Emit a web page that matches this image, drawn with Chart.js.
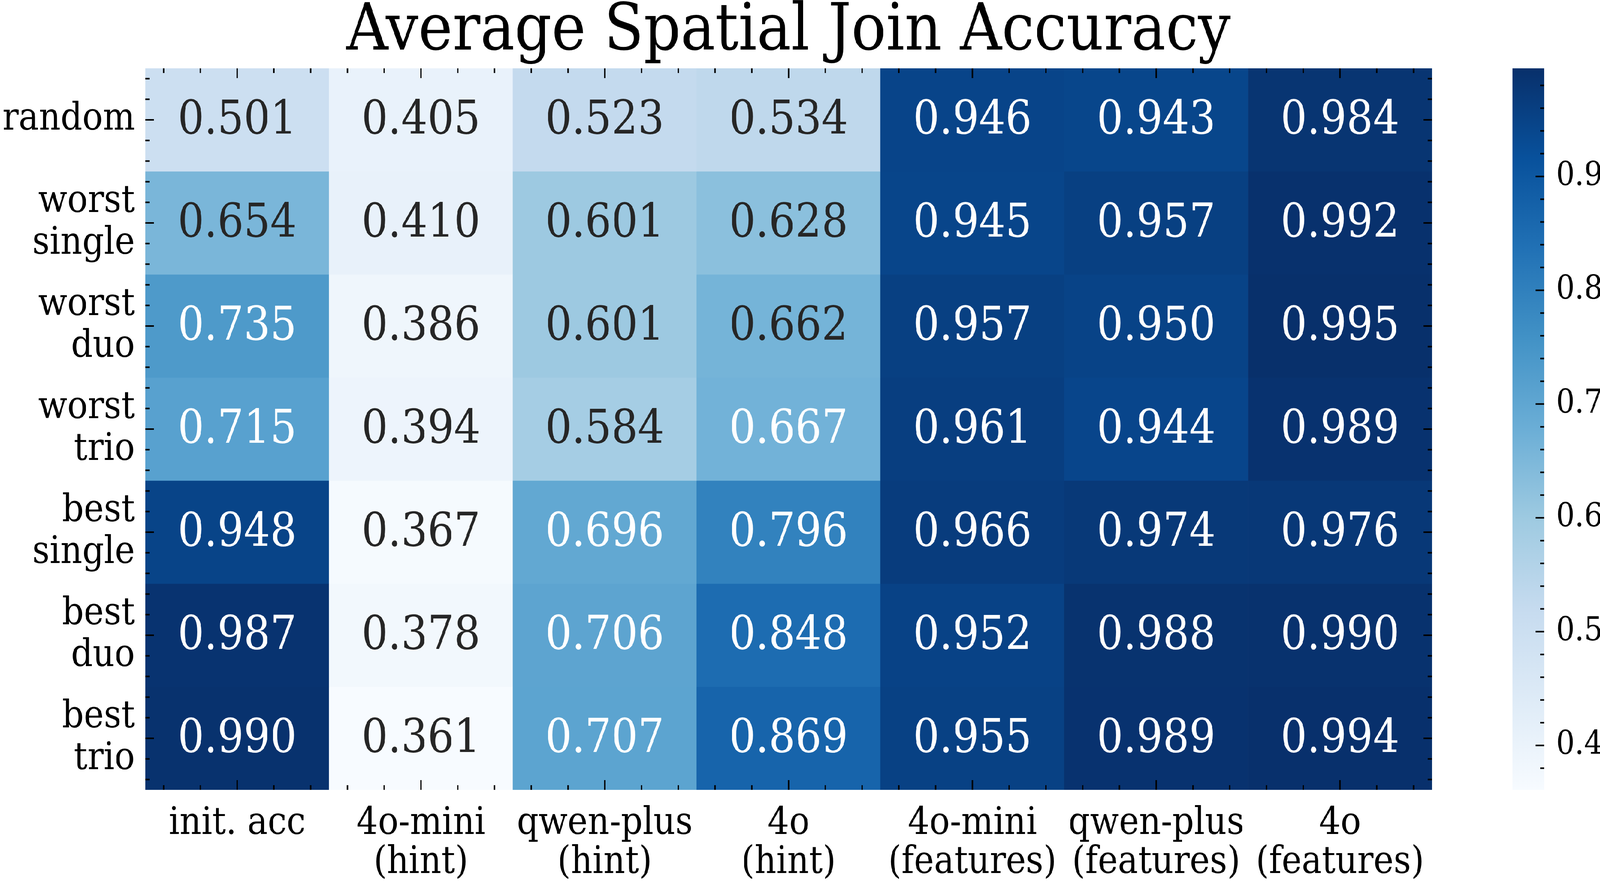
<!DOCTYPE html>
<html>
<head>
<meta charset="utf-8">
<script src="https://cdn.jsdelivr.net/npm/chart.js@4"></script>
<style>
  html, body { margin: 0; padding: 0; background: #fff; overflow: hidden; }
  #stage { position: relative; width: 100vw; height: 100vh; overflow: hidden; }
  #wrap { position: absolute; left: 0; top: 0; width: 4626px; height: 2259px; transform-origin: 0 0; }
  #heat { position: absolute; left: 0; top: 0; }
  #cbar { position: absolute; left: 4300px; top: 0; }
</style>
</head>
<body>
<div id="stage">
  <div id="wrap">
    <canvas id="heat" width="4300" height="2259"></canvas>
    <canvas id="cbar" width="326" height="2259"></canvas>
  </div>
</div>
<script>
// rows of the heatmap (one array per row, columns in colLabels order)
var rowLabels = [['random'], ['worst', 'single'], ['worst', 'duo'], ['worst', 'trio'],
                 ['best', 'single'], ['best', 'duo'], ['best', 'trio']];
var colLabels = [['init. acc'], ['4o-mini', '(hint)'], ['qwen-plus', '(hint)'], ['4o', '(hint)'],
                 ['4o-mini', '(features)'], ['qwen-plus', '(features)'], ['4o', '(features)']];

var randomRow   = [0.501, 0.405, 0.523, 0.534, 0.946, 0.943, 0.984];
var worstSingle = [0.654, 0.410, 0.601, 0.628, 0.945, 0.957, 0.992];
var worstDuo    = [0.735, 0.386, 0.601, 0.662, 0.957, 0.950, 0.995];
var worstTrio   = [0.715, 0.394, 0.584, 0.667, 0.961, 0.944, 0.989];
var bestSingle  = [0.948, 0.367, 0.696, 0.796, 0.966, 0.974, 0.976];
var bestDuo     = [0.987, 0.378, 0.706, 0.848, 0.952, 0.988, 0.990];
var bestTrio    = [0.990, 0.361, 0.707, 0.869, 0.955, 0.989, 0.994];
var rows = [randomRow, worstSingle, worstDuo, worstTrio, bestSingle, bestDuo, bestTrio];

var cbTicks = [0.4, 0.5, 0.6, 0.7, 0.8, 0.9];

var vmin = Math.min.apply(null, rows.map(function (r) { return Math.min.apply(null, r); }));
var vmax = Math.max.apply(null, rows.map(function (r) { return Math.max.apply(null, r); }));

// the figure is laid out at 4626x2259; the window may be narrower, so stretch it to fill
var sx = window.innerWidth / 4626, sy = window.innerHeight / 2259;
document.getElementById('wrap').style.transform = 'scale(' + sx + ',' + sy + ')';

// matplotlib "Blues"
var blues = ['#f7fbff', '#deebf7', '#c6dbef', '#9ecae1', '#6baed6', '#4292c6', '#2171b5', '#08519c', '#08306b'];
var bluesRgb = blues.map(function (h) {
    return [parseInt(h.substr(1, 2), 16), parseInt(h.substr(3, 2), 16), parseInt(h.substr(5, 2), 16)];
});

function cmap(v) {
    var t = (v - vmin) / (vmax - vmin);
    t = Math.max(0, Math.min(1, t)) * (bluesRgb.length - 1);
    var i = Math.min(Math.floor(t), bluesRgb.length - 2);
    var f = t - i;
    var a = bluesRgb[i], b = bluesRgb[i + 1];
    return [0, 1, 2].map(function (k) { return a[k] + (b[k] - a[k]) * f; });
}
function css(c) { return 'rgb(' + c.map(Math.round).join(',') + ')'; }

// seaborn picks text colour from the luminance of the cell
function textColor(v) {
    var lin = cmap(v).map(function (x) {
        x = x / 255;
        return x <= 0.03928 ? x / 12.92 : Math.pow((x + 0.055) / 1.055, 2.4);
    });
    var lum = 0.2126 * lin[0] + 0.7152 * lin[1] + 0.0722 * lin[2];
    return lum > 0.408 ? '#262626' : '#ffffff';
}

var serif = 'DejaVu Serif';

// numbers inside the cells
var cellText = {
    id: 'cellText',
    afterDatasetsDraw: function (chart) {
        var ctx = chart.ctx;
        ctx.save();
        ctx.font = '120px "' + serif + '"';
        ctx.textAlign = 'center';
        ctx.textBaseline = 'alphabetic';
        chart.data.datasets.forEach(function (ds, di) {
            chart.getDatasetMeta(di).data.forEach(function (bar, ci) {
                var p = bar.getProps(['x', 'y', 'base'], true);
                var v = ds.values[ci];
                ctx.fillStyle = textColor(v);
                ctx.fillText(v.toFixed(3), p.x, (p.y + p.base) / 2 + 35);
            });
        });
        ctx.restore();
    }
};

// inward major + minor ticks on all four sides
var insideTicks = {
    id: 'insideTicks',
    afterDraw: function (chart) {
        var ctx = chart.ctx, a = chart.chartArea, x = chart.scales.x, y = chart.scales.y;
        var offs = [0.1, 0.3, 0.5, 0.7, 0.9];
        ctx.save();
        ctx.strokeStyle = '#000';
        ctx.lineWidth = 4;
        ctx.beginPath();
        colLabels.forEach(function (l, i) {
            offs.forEach(function (d) {
                var px = x.getPixelForValue(i - 0.5 + d);
                var len = d === 0.5 ? 25 : 12;
                ctx.moveTo(px, a.bottom); ctx.lineTo(px, a.bottom - len);
                ctx.moveTo(px, a.top); ctx.lineTo(px, a.top + len);
            });
        });
        rowLabels.forEach(function (l, r) {
            offs.forEach(function (d) {
                var py = y.getPixelForValue(r + d);
                var len = d === 0.5 ? 25 : 12;
                ctx.moveTo(a.left, py); ctx.lineTo(a.left + len, py);
                ctx.moveTo(a.right, py); ctx.lineTo(a.right - len, py);
            });
        });
        ctx.stroke();
        ctx.restore();
    }
};

var heat = new Chart(document.getElementById('heat').getContext('2d'), {
    type: 'bar',
    data: {
        labels: colLabels,
        datasets: rows.map(function (vals, r) {
            return {
                label: rowLabels[r].join(' '),
                data: vals.map(function () { return [r, r + 1]; }),
                values: vals,
                backgroundColor: vals.map(function (v) { return css(cmap(v)); }),
                borderWidth: 0,
                barPercentage: 1,
                categoryPercentage: 1,
                grouped: false
            };
        })
    },
    options: {
        responsive: false,
        animation: false,
        layout: { padding: { left: 0, right: 160, top: 0, bottom: 0 } },
        plugins: {
            legend: { display: false },
            tooltip: { enabled: false },
            title: {
                display: true,
                fullSize: false,
                text: 'Average Spatial Join Accuracy',
                color: '#000',
                font: { family: serif, size: 167, weight: 'normal', lineHeight: 1.0 },
                padding: { top: 0, bottom: 8 }
            }
        },
        scales: {
            x: {
                grid: { display: false },
                border: { display: false },
                ticks: {
                    color: '#000', padding: 30, maxRotation: 0, autoSkip: false,
                    font: { family: serif, size: 98, lineHeight: 1.02 }
                },
                afterFit: function (s) { s.height = 236; }
            },
            y: {
                min: 0, max: 7, reverse: true,
                grid: { display: false },
                border: { display: false },
                afterBuildTicks: function (s) {
                    s.ticks = rowLabels.map(function (l, i) { return { value: i + 0.5 }; });
                },
                ticks: {
                    color: '#000', padding: 22,
                    font: { family: serif, size: 98, lineHeight: 1.1 },
                    callback: function (v, i) { return rowLabels[i]; }
                },
                afterFit: function (s) { s.width = 420; }
            }
        }
    },
    plugins: [cellText, insideTicks]
});

// colour bar
var cbTickMarks = {
    id: 'cbTickMarks',
    afterDraw: function (chart) {
        var ctx = chart.ctx, a = chart.chartArea, y = chart.scales.y;
        ctx.save();
        ctx.strokeStyle = '#000';
        ctx.lineWidth = 4;
        ctx.beginPath();
        for (var k = 19; k <= 49; k++) {
            var v = k / 50;
            if (v < vmin || v > vmax) continue;
            var len = k % 5 === 0 ? 25 : 12;
            var py = y.getPixelForValue(v);
            ctx.moveTo(a.right, py); ctx.lineTo(a.right - len, py);
        }
        ctx.stroke();
        ctx.restore();
    }
};

var cbar = new Chart(document.getElementById('cbar').getContext('2d'), {
    type: 'bar',
    data: {
        labels: [''],
        datasets: [{
            data: [[vmin, vmax]],
            borderWidth: 0,
            barPercentage: 1,
            categoryPercentage: 1,
            backgroundColor: function (c) {
                var area = c.chart.chartArea;
                if (!area) return blues[4];
                var g = c.chart.ctx.createLinearGradient(0, area.bottom, 0, area.top);
                blues.forEach(function (col, i) { g.addColorStop(i / (blues.length - 1), col); });
                return g;
            }
        }]
    },
    options: {
        responsive: false,
        animation: false,
        layout: { padding: { left: 73, right: 0, top: 175, bottom: 236 } },
        plugins: { legend: { display: false }, tooltip: { enabled: false } },
        scales: {
            x: { display: false },
            y: {
                position: 'right',
                min: vmin, max: vmax,
                grid: { display: false },
                border: { display: false },
                afterBuildTicks: function (s) {
                    s.ticks = cbTicks.map(function (v) { return { value: v }; });
                },
                ticks: {
                    color: '#000', padding: 26,
                    font: { family: serif, size: 85 },
                    callback: function (v) { return v.toFixed(1); }
                },
                afterFit: function (s) { s.width = 161; }
            }
        }
    },
    plugins: [cbTickMarks]
});
</script>
</body>
</html>
